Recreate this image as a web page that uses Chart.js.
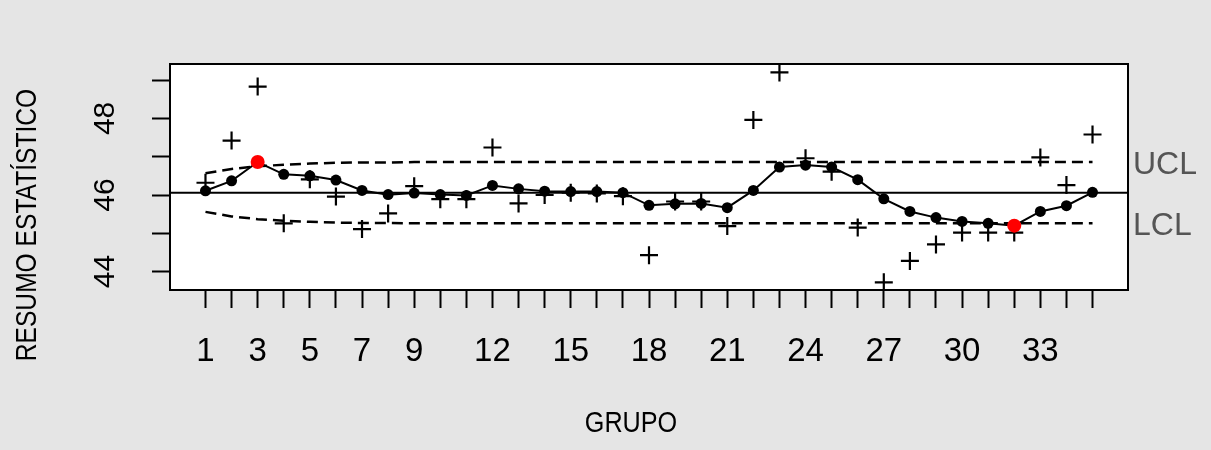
<!DOCTYPE html>
<html>
<head>
<meta charset="utf-8">
<script src="https://cdn.jsdelivr.net/npm/chart.js@4/dist/chart.umd.min.js"></script>
<style>
  body { margin: 0; background: #e5e5e5; }
  #wrap { width: 1211px; height: 450px; }
</style>
</head>
<body>
<div id="wrap"><canvas id="chart" width="1211" height="450"></canvas></div>
<script>
// EWMA chart data
const groups = [1, 2, 3, 4, 5, 6, 7, 8, 9, 10, 11, 12, 13, 14, 15, 16, 17, 18, 19, 20,
  21, 22, 23, 24, 25, 26, 27, 28, 29, 30, 31, 32, 33, 34, 35];
const stats = [46.32, 47.42, 48.83, 45.26, 46.41, 45.96, 45.11, 45.52, 46.23, 45.89,
  45.89, 47.24, 45.78, 46.00, 46.06, 46.04, 45.97, 44.43, 45.83, 45.83,
  45.19, 47.96, 49.20, 46.96, 46.61, 45.15, 43.72, 44.28, 44.71, 45.02,
  45.02, 45.02, 46.98, 46.26, 47.58];
const ewma = [46.11, 46.37, 46.86, 46.54, 46.50, 46.39, 46.12, 46.01, 46.05, 46.01,
  45.99, 46.25, 46.16, 46.10, 46.09, 46.09, 46.06, 45.73, 45.77, 45.78,
  45.67, 46.12, 46.73, 46.78, 46.73, 46.40, 45.90, 45.57, 45.41, 45.31,
  45.26, 45.20, 45.57, 45.72, 46.07];
const ucl = [46.57, 46.68, 46.75, 46.79, 46.82, 46.84, 46.85, 46.85, 46.86, 46.86,
  46.86, 46.86, 46.86, 46.86, 46.86, 46.86, 46.86, 46.86, 46.86, 46.86,
  46.86, 46.86, 46.86, 46.86, 46.86, 46.86, 46.86, 46.86, 46.86, 46.86,
  46.86, 46.86, 46.86, 46.86, 46.86];
const lcl = [45.56, 45.44, 45.37, 45.33, 45.30, 45.28, 45.27, 45.27, 45.26, 45.26,
  45.26, 45.26, 45.26, 45.26, 45.26, 45.26, 45.26, 45.26, 45.26, 45.26,
  45.26, 45.26, 45.26, 45.26, 45.26, 45.26, 45.26, 45.26, 45.26, 45.26,
  45.26, 45.26, 45.26, 45.26, 45.26];
const center = 46.06;
const xTickLabels = [1, 3, 5, 7, 9, 12, 15, 18, 21, 24, 27, 30, 33];
const yTickLabels = [44, 46, 48];
const yTicks = [44, 45, 46, 47, 48, 49];

const regular = "'Liberation Sans', Arial, sans-serif";

// points beyond limits are red
let dotColors = ewma.map((v, i) => (v > ucl[i] || v < lcl[i]) ? '#ff0000' : '#000000');
let dotRadius = ewma.map((v, i) => (v > ucl[i] || v < lcl[i]) ? 7 : 5.5);

const xy = arr => groups.map((g, i) => ({ x: g, y: arr[i] }));

// condensed text (the original uses a narrow face)
function narrowText(ctx, txt, x, y, rot, sx) {
  ctx.save();
  ctx.translate(x, y);
  if (rot) ctx.rotate(rot);
  ctx.scale(sx, 1);
  ctx.fillText(txt, 0, 0);
  ctx.restore();
}

// background, box, center line and the side texts
const decor = {
  id: 'decor',
  beforeDraw(chart) {
    const { ctx, chartArea: a } = chart;
    ctx.save();
    ctx.fillStyle = '#e5e5e5';
    ctx.fillRect(0, 0, chart.width, chart.height);
    ctx.fillStyle = '#ffffff';
    ctx.fillRect(a.left, a.top, a.right - a.left, a.bottom - a.top);
    ctx.restore();
  },
  beforeDatasetsDraw(chart) {
    const { ctx, chartArea: a } = chart;
    const y = chart.scales.y.getPixelForValue(center);
    ctx.save();
    ctx.strokeStyle = '#000';
    ctx.lineWidth = 2;
    ctx.beginPath();
    ctx.moveTo(a.left, y);
    ctx.lineTo(a.right, y);
    ctx.stroke();
    ctx.restore();
  },
  afterDraw(chart) {
    const { ctx, chartArea: a } = chart;
    const ys = chart.scales.y;
    ctx.save();
    ctx.strokeStyle = '#000';
    ctx.lineWidth = 2;
    ctx.strokeRect(a.left, a.top, a.right - a.left, a.bottom - a.top);

    ctx.fillStyle = '#555555';
    ctx.font = '32px ' + regular;
    ctx.textAlign = 'left';
    ctx.textBaseline = 'middle';
    ctx.fillText('UCL', a.right + 5, ys.getPixelForValue(ucl[ucl.length - 1]) + 3);
    ctx.fillText('LCL', a.right + 5, ys.getPixelForValue(lcl[lcl.length - 1]) + 3);

    ctx.fillStyle = '#000';
    ctx.font = '30px ' + regular;
    ctx.textAlign = 'center';
    narrowText(ctx, 'GRUPO', 631, 424, 0, 0.84);
    narrowText(ctx, 'RESUMO ESTATÍSTICO', 28, 225, -Math.PI / 2, 0.82);
    ctx.restore();
  }
};

new Chart(document.getElementById('chart'), {
  type: 'scatter',
  data: {
    datasets: [{
      label: 'ewma',
      data: xy(ewma),
      showLine: true,
      borderColor: '#000',
      borderWidth: 2,
      pointRadius: dotRadius,
      pointBackgroundColor: dotColors,
      pointBorderColor: dotColors,
      pointBorderWidth: 0,
      order: 0
    }, {
      label: 'stats',
      data: xy(stats),
      showLine: false,
      pointStyle: 'cross',
      pointRadius: 9,
      borderColor: '#000',
      pointBorderWidth: 2.2,
      order: 1
    }, {
      label: 'ucl',
      data: xy(ucl),
      showLine: true,
      borderColor: '#000',
      borderWidth: 2.5,
      borderDash: [11, 6],
      pointRadius: 0,
      order: 2
    }, {
      label: 'lcl',
      data: xy(lcl),
      showLine: true,
      borderColor: '#000',
      borderWidth: 2.5,
      borderDash: [11, 6],
      pointRadius: 0,
      order: 2
    }]
  },
  options: {
    responsive: false,
    animation: false,
    events: [],
    layout: { padding: { top: 64, right: 83, left: 0, bottom: 0 } },
    plugins: { legend: { display: false }, tooltip: { enabled: false } },
    scales: {
      x: {
        type: 'linear',
        min: -0.36,
        max: 36.36,
        afterFit: s => { s.height = 160; },
        afterBuildTicks: s => { s.ticks = groups.map(g => ({ value: g })); },
        border: { display: false },
        grid: { drawOnChartArea: false, tickLength: 18, tickWidth: 2, tickColor: '#000' },
        ticks: {
          autoSkip: false,
          maxRotation: 0,
          padding: 24,
          color: '#000',
          font: { size: 33, family: regular },
          callback: v => xTickLabels.includes(v) ? String(v) : ''
        }
      },
      y: {
        min: 43.52,
        max: 49.42,
        afterFit: s => { s.width = 170; },
        afterBuildTicks: s => { s.ticks = yTicks.map(v => ({ value: v })); },
        border: { display: false },
        grid: { drawOnChartArea: false, tickLength: 18, tickWidth: 2, tickColor: '#000' },
        ticks: {
          minRotation: 90,
          maxRotation: 90,
          crossAlign: 'center',
          padding: 30,
          color: '#000',
          font: { size: 30, family: regular },
          callback: v => yTickLabels.includes(v) ? String(v) : ''
        }
      }
    }
  },
  plugins: [decor]
});
</script>
</body>
</html>
